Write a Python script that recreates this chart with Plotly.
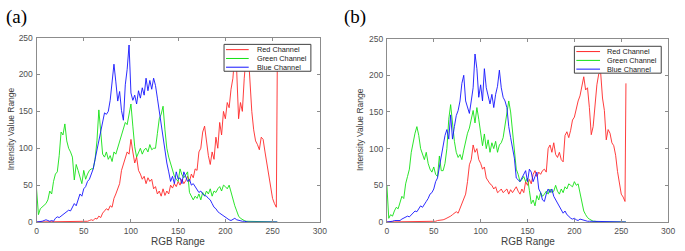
import plotly.graph_objects as go

# x bins (intensity levels)
x_bins = list(range(0, 255, 2)) + [255]

# ---------------- Panel (a) ----------------
red_a = [
    0, 0, 0, 0, 0, 0, 0, 0, 0, 0,
    0, 0, 0, 0, 0, 0, 0, 0, 0, 0,
    0, 0, 0, 0, 0, 0, 1, 1, 2, 3,
    2, 5, 4, 8, 6, 12, 15, 18, 16, 22,
    20, 32, 38, 45, 52, 70, 78, 88, 95, 92,
    112, 95, 80, 88, 70, 65, 58, 62, 52, 60,
    55, 58, 45, 48, 38, 42, 35, 45, 36, 42,
    38, 50, 46, 52, 48, 55, 50, 58, 52, 56,
    62, 55, 65, 60, 72, 70, 95, 100, 122, 130,
    108, 90, 78, 95, 85, 115, 100, 135, 118, 150,
    140, 162, 155, 180, 195, 228, 205, 140, 162, 150,
    195, 225, 235, 185, 150, 125, 110, 105, 98, 115,
    112, 95, 80, 60, 48, 32, 25, 20,
    210,
]
green_a = [
    45, 10, 18, 20, 22, 25, 30, 42, 38, 55,
    65, 68, 90, 122, 118, 133, 110, 100, 95, 88,
    57, 78, 70, 60, 52, 70, 58, 65, 70, 72,
    72, 85, 110, 152, 115, 92, 88, 95, 85, 90,
    82, 95, 92, 100, 110, 118, 125, 135, 132, 145,
    160, 130, 102, 88, 95, 100, 92, 98, 100, 95,
    105, 98, 100, 100, 120, 140, 146, 157, 125, 100,
    88, 78, 70, 62, 58, 55, 72, 64, 60, 65,
    68, 40, 35, 30, 35, 32, 38, 30, 40, 35,
    42, 38, 45, 35, 42, 40, 45, 48, 42, 50,
    48, 45, 50, 40, 30, 22, 15, 8, 5, 3,
    2, 1, 1, 0, 0, 0, 0, 0, 0, 0,
    0, 0, 0, 0, 0, 0, 0, 0,
    0,
]
blue_a = [
    0, 0, 1, 1, 2, 3, 2, 1, 2, 1,
    5, 7, 6, 8, 10, 12, 13, 16, 15, 20,
    25, 22, 30, 38, 35, 45, 48, 55, 58, 65,
    72, 85, 98, 108, 122, 138, 148, 146, 150, 165,
    186, 214, 190, 164, 177, 151, 138, 186, 207, 240,
    175, 165, 172, 160, 178, 168, 182, 172, 195, 178,
    192, 180, 195, 185, 168, 150, 138, 115, 95, 80,
    68, 55, 62, 52, 68, 58, 60, 52, 68, 62,
    55, 58, 50, 52, 48, 45, 40, 42, 38, 36,
    35, 32, 30, 25, 20, 18, 14, 12, 10, 8,
    6, 5, 3, 2, 4, 5, 3, 2, 1, 1,
    1, 0, 0, 0, 0, 0, 0, 0, 0, 0,
    0, 0, 0, 0, 0, 0, 0, 0,
    0,
]

# ---------------- Panel (b) ----------------
red_b = [
    0, 0, 0, 0, 0, 0, 0, 0, 0, 0,
    0, 0, 0, 0, 0, 0, 0, 0, 0, 0,
    0, 0, 0, 0, 0, 0, 1, 2, 2, 3,
    3, 4, 5, 6, 8, 10, 12, 14, 12, 18,
    25, 30, 38, 55, 78, 85, 105, 95, 100, 85,
    80, 72, 75, 60, 55, 52, 50, 45, 48, 40,
    42, 45, 40, 42, 45, 38, 44, 40, 45, 48,
    42, 38, 45, 40, 55, 50, 58, 52, 65, 70,
    62, 68, 65, 70, 72, 68, 100, 105, 95, 108,
    92, 88, 95, 85, 82, 118, 123, 115, 125, 139,
    143, 155, 165, 172, 183, 198, 180, 183, 156, 119,
    130, 165, 187, 202, 204, 169, 152, 112, 126, 121,
    108, 104, 91, 69, 52, 38, 34, 28,
    189,
]
green_b = [
    50, 5, 10, 8, 15, 20, 18, 28, 35, 32,
    52, 62, 72, 95, 110, 121, 130, 118, 100, 92,
    85, 95, 80, 72, 68, 75, 65, 62, 90, 70,
    70, 80, 100, 140, 160, 135, 110, 95, 88, 92,
    85, 98, 112, 121, 128, 143, 152, 135, 156, 140,
    121, 104, 120, 100, 112, 95, 108, 100, 110, 95,
    105, 108, 115, 130, 148, 165, 150, 125, 100, 72,
    65, 55, 58, 62, 55, 60, 43, 25, 30, 22,
    36, 30, 40, 35, 38, 42, 38, 45, 40, 42,
    50, 42, 38, 45, 40, 48, 45, 52, 50, 48,
    55, 50, 52, 40, 25, 15, 10, 6, 4, 2,
    1, 1, 0, 0, 0, 0, 0, 0, 0, 0,
    0, 0, 0, 0, 0, 0, 0, 0,
    0,
]
blue_b = [
    0, 0, 1, 1, 2, 2, 3, 2, 4, 5,
    6, 8, 7, 10, 12, 15, 14, 18, 22, 20,
    25, 28, 32, 38, 40, 45, 55, 60, 75, 90,
    100, 118, 126, 113, 146, 113, 130, 145, 152, 165,
    189, 200, 165, 156, 148, 165, 183, 229, 209, 170,
    187, 165, 209, 183, 170, 161, 174, 156, 174, 185,
    207, 183, 170, 165, 156, 130, 115, 100, 87, 60,
    58, 55, 60, 65, 70, 55, 72, 68, 55, 62,
    68, 45, 40, 30, 28, 38, 45, 40, 45, 35,
    30, 25, 20, 15, 12, 15, 10, 8, 5, 4,
    5, 3, 2, 4, 3, 2, 2, 1, 1, 1,
    1, 0, 0, 0, 0, 0, 0, 0, 0, 0,
    0, 0, 0, 0, 0, 0, 0, 0,
    0,
]

series_names = ["Red Channel", "Green Channel", "Blue Channel"]
colors = ["rgb(255,40,40)", "rgb(20,225,20)", "rgb(20,20,255)"]
panel_labels = ["(a)", "(b)"]
x_ticks = [0, 50, 100, 150, 200, 250, 300]
y_ticks = [0, 50, 100, 150, 200, 250]
x_title = "RGB Range"
y_title = "Intensity Value Range"

W, H = 685, 251
SANS = "Arial, Liberation Sans, Helvetica, sans-serif"
fig = go.Figure()

panels = [
    dict(data=[red_a, green_a, blue_a], xa="x", ya="y",
         xpx=(35, 322), ypx=(34, 226), label_x=2, ytitle_x=8.5,
         leg_box=(225, 41, 313, 69), leg_line=(227, 250), leg_text=256,
         leg_rows=(46.5, 55.7, 64.8)),
    dict(data=[red_b, green_b, blue_b], xa="x2", ya="y2",
         xpx=(390, 675), ypx=(35, 226), label_x=345, ytitle_x=363.5,
         leg_box=(580, 43, 668, 71), leg_line=(582, 606), leg_text=611,
         leg_rows=(48.5, 57.7, 66.8)),
]

def px(xp):
    return xp / W

def py(yp):
    return 1 - yp / H

for p in panels:
    for name, col, vals in zip(series_names, colors, p["data"]):
        fig.add_trace(go.Scatter(
            x=x_bins, y=vals, mode="lines", name=name,
            line=dict(color=col, width=0.9),
            xaxis=p["xa"], yaxis=p["ya"], showlegend=False,
        ))

axis_common = dict(
    showline=True, linecolor="#8c8c8c", linewidth=1, mirror="ticks",
    ticks="inside", ticklen=3, tickcolor="#8c8c8c",
    showgrid=False, zeroline=False,
    tickfont=dict(family=SANS, size=8.5, color="#505050"),
)

layout_axes = {}
for i, p in enumerate(panels):
    sfx = "" if i == 0 else str(i + 1)
    layout_axes["xaxis" + sfx] = dict(
        domain=[px(p["xpx"][0]), px(p["xpx"][1])], range=[0, 300],
        tickvals=x_ticks, anchor="y" + sfx, ticklabelstandoff=1, **axis_common)
    layout_axes["yaxis" + sfx] = dict(
        domain=[py(p["ypx"][1]), py(p["ypx"][0])], range=[0, 250],
        tickvals=y_ticks, anchor="x" + sfx, ticklabelstandoff=1, **axis_common)

fig.update_layout(
    width=W, height=H,
    margin=dict(l=0, r=0, t=0, b=0),
    paper_bgcolor="white", plot_bgcolor="white",
    showlegend=False, hovermode=False,
    **layout_axes,
)

annotations = []
shapes = []
for lbl, p in zip(panel_labels, panels):
    cx = (p["xpx"][0] + p["xpx"][1]) / 2
    cy = (p["ypx"][0] + p["ypx"][1]) / 2
    annotations.append(dict(text=lbl, x=px(p["label_x"]), y=py(12), xref="paper", yref="paper",
                            xanchor="left", yanchor="middle", showarrow=False,
                            font=dict(family="Liberation Serif, Times New Roman, serif", size=19,
                                      color="black")))
    annotations.append(dict(text=x_title, x=px(cx), y=py(246.2), xref="paper", yref="paper",
                            xanchor="center", yanchor="middle", showarrow=False,
                            font=dict(family=SANS, size=10, color="#404040")))
    annotations.append(dict(text=y_title, x=px(p["ytitle_x"]), y=py(cy - 1), xref="paper",
                            yref="paper", xanchor="center", yanchor="middle", showarrow=False,
                            textangle=-90, font=dict(family=SANS, size=8.5, color="#404040")))
    # legend box (drawn manually for compact MATLAB-like rows)
    x0, y0, x1, y1 = p["leg_box"]
    shapes.append(dict(type="rect", xref="paper", yref="paper",
                       x0=px(x0), x1=px(x1), y0=py(y1), y1=py(y0),
                       line=dict(color="#404040", width=1), fillcolor="white", layer="above"))
    for name, col, ry in zip(series_names, colors, p["leg_rows"]):
        shapes.append(dict(type="line", xref="paper", yref="paper",
                           x0=px(p["leg_line"][0]), x1=px(p["leg_line"][1]),
                           y0=py(ry), y1=py(ry), line=dict(color=col, width=1), layer="above"))
        annotations.append(dict(text=name, x=px(p["leg_text"]), y=py(ry), xref="paper",
                                yref="paper", xanchor="left", yanchor="middle", showarrow=False,
                                font=dict(family=SANS, size=7.3, color="#222")))

fig.update_layout(annotations=annotations, shapes=shapes)

fig.write_html("out.html", config={"displayModeBar": False, "staticPlot": True},
               post_script="document.body.style.margin='0px';")
